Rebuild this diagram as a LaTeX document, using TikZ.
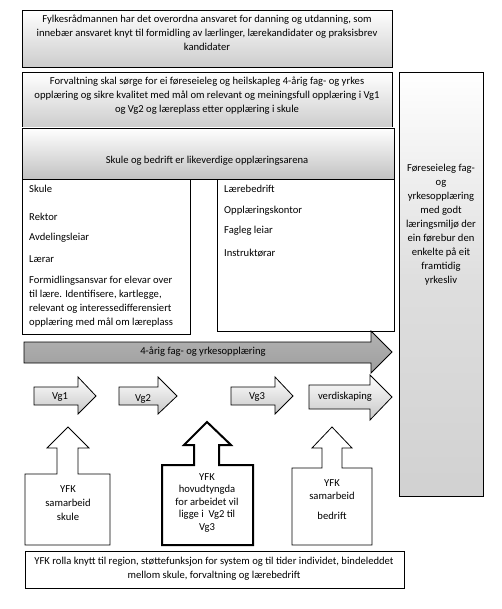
\documentclass[tikz,border=0pt]{standalone}
\usepackage{fontspec}
\setmainfont{Carlito}
\tikzset{
  boks/.style={draw=black, line width=0.8pt},
  gradboks/.style={boks, top color=white, bottom color=black!20},
  pil/.style={boks, top color=white, bottom color=black!22},
  tekst/.style={font=\fontsize{10.6}{14}\selectfont, inner sep=0pt, align=center},
  venstre/.style={tekst, anchor=west, align=left},
}
\begin{document}
\begin{tikzpicture}[x=1pt, y=-1pt]
  \useasboundingbox (0,0) rectangle (502,609);
  % boksar for skule og lærebedrift
  \draw[boks, fill=white] (22,179) rectangle (190,334);
  \draw[boks, fill=white] (217,179) rectangle (394,331);
  % overordna boksar
  \draw[gradboks] (22,10) rectangle (392,67);
  \draw[gradboks] (22,72) rectangle (392,128);
  \draw[gradboks, bottom color=black!24] (22,128) rectangle (394,179);
  \draw[boks, top color=white, bottom color=black!18, middle color=black!13] (399,72) rectangle (483,496);
  \node[tekst] (fylke) at (207,33) {Fylkesrådmannen har det overordna ansvaret for danning og utdanning, som\\innebær ansvaret knyt til formidling av lærlinger, lærekandidater og praksisbrev\\kandidater};
  \node[tekst] (forvaltning) at (207,96) {Forvaltning skal sørge for ei føreseieleg og heilskapleg 4-årig fag- og yrkes\\opplæring og sikre kvalitet med mål om relevant og meiningsfull opplæring i Vg1\\og Vg2 og læreplass etter opplæring i skule};
  \node[tekst] (likeverd) at (207,161) {Skule og bedrift er likeverdige opplæringsarena};
  \node[tekst] (maal) at (441,225) {Føreseieleg fag-\\og\\yrkesopplæring\\med godt\\læringsmiljø der\\ein førebur den\\enkelte på eit\\framtidig\\yrkesliv};
  % skule
  \node[venstre] (skule) at (29,189) {Skule};
  \node[venstre] (rektor) at (29,217) {Rektor};
  \node[venstre] (avd) at (29,238) {Avdelingsleiar};
  \node[venstre] (laerar) at (29,259) {Lærar};
  \node[venstre, anchor=north west] (formidling) at (29,276) {Formidlingsansvar for elevar over\\til lære. Identifisere, kartlegge,\\relevant og interessedifferensiert\\opplæring med mål om læreplass};
  % lærebedrift
  \node[venstre] (bedrift) at (224,189) {Lærebedrift};
  \node[venstre] (kontor) at (224,211) {Opplæringskontor};
  \node[venstre] (fagleg) at (224,231) {Fagleg leiar};
  \node[venstre] (instr) at (224,253) {Instruktørar};
  % 4-årig løp
  \draw[boks, top color=black!30, bottom color=black!38] (24,342) -- (371,342) -- (371,331) -- (392,352) -- (371,373) -- (371,363) -- (24,363) -- cycle;
  \node[tekst] (fireaar) at (203,352) {4-årig fag- og yrkesopplæring};
  % Vg-pilar
  \draw[pil] (34,387) -- (78,387) -- (78,377) -- (96,396) -- (78,414) -- (78,405) -- (34,405) -- cycle;
  \draw[pil] (119,387) -- (158,387) -- (158,377) -- (177,396) -- (158,414) -- (158,405) -- (119,405) -- cycle;
  \draw[pil] (231,387) -- (275,387) -- (275,377) -- (293,396) -- (275,414) -- (275,405) -- (231,405) -- cycle;
  \draw[pil] (309,385) -- (370,385) -- (370,375) -- (392,397) -- (370,420) -- (370,409) -- (309,409) -- cycle;
  \node[tekst] (vg1) at (60,397) {Vg1};
  \node[tekst] (vg2) at (143,399) {Vg2};
  \node[tekst] (vg3) at (257,397) {Vg3};
  \node[tekst] (verdi) at (345,397) {verdiskaping};
  % YFK-boksar med pil opp
  \draw[boks, fill=white] (25,545) -- (25,474) -- (57,474) -- (57,448) -- (47,448) -- (68,427) -- (89,448) -- (78,448) -- (78,474) -- (110,474) -- (110,545) -- cycle;
  \draw[boks, fill=white, line width=2pt] (162,545) -- (162,465) -- (194,465) -- (194,445) -- (184,445) -- (207,422) -- (231,445) -- (219,445) -- (219,465) -- (253,465) -- (253,545) -- cycle;
  \draw[boks, fill=white] (292,545) -- (292,468) -- (322,468) -- (322,448) -- (312,448) -- (332,427) -- (352,448) -- (342,448) -- (342,468) -- (372,468) -- (372,545) -- cycle;
  \node[tekst] (yfkskule) at (68,503) {YFK\\samarbeid\\skule};
  \node[tekst, font=\fontsize{10.6}{12.5}\selectfont] (yfkhovud) at (207,503) {YFK\\hovudtyngda\\for arbeidet vil\\ligge i~ Vg2 til\\Vg3};
  \node[tekst] (yfkbedrift) at (332,483) {YFK};
  \node[tekst] (yfksam) at (332,496) {samarbeid};
  \node[tekst] (yfkbed) at (332,516) {bedrift};
  % rolla
  \draw[boks, fill=white] (25,551) rectangle (404,588);
  \node[tekst] (rolla) at (214,569) {YFK rolla knytt til region, støttefunksjon for system og til tider individet, bindeleddet\\mellom skule, forvaltning og lærebedrift};
\end{tikzpicture}
\end{document}
